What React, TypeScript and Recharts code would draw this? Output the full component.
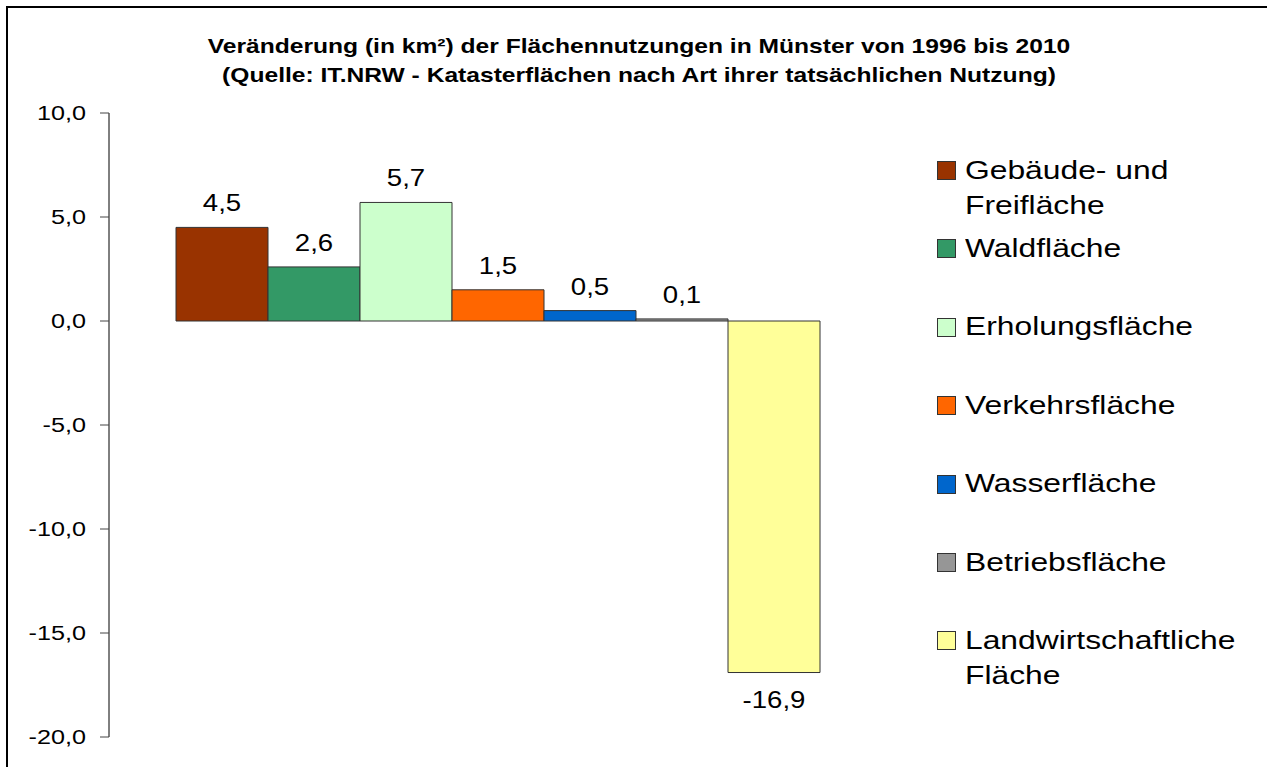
import { BarChart, Bar, XAxis, YAxis, Legend, LabelList } from 'recharts';

const FONT = '"Liberation Sans", Arial, sans-serif';
const SX = 1.2; // the reference is stretched horizontally

const categories = ['1996-2010'];
const seriesNames = [
  'Gebäude- und Freifläche',
  'Waldfläche',
  'Erholungsfläche',
  'Verkehrsfläche',
  'Wasserfläche',
  'Betriebsfläche',
  'Landwirtschaftliche Fläche',
];
const seriesValues = [4.5, 2.6, 5.7, 1.5, 0.5, 0.1, -16.9];
const seriesColors = ['#993300', '#339966', '#CCFFCC', '#FF6600', '#0066CC', '#969696', '#FFFF99'];
const yTicks = [-20, -15, -10, -5, 0, 5, 10];

const data = categories.map((name) => {
  const row: Record<string, number | string> = { name };
  seriesNames.forEach((s, i) => { row[s] = seriesValues[i]; });
  return row;
});

const fmt = (v: number) => v.toFixed(1).replace('.', ',');

function YTick(props: any) {
  const { x, y, payload } = props;
  return (
    <text
      transform={`translate(${x},${y}) scale(${SX},1)`}
      textAnchor="end"
      dy="0.357em"
      fontSize={21}
      fontFamily={FONT}
      fill="#000"
    >
      {fmt(payload.value)}
    </text>
  );
}

function ValueLabel(props: any) {
  const vb = props.viewBox || props;
  const x = Number(vb.x), y = Number(vb.y), w = Number(vb.width), h = Number(vb.height);
  const value = Number(props.value);
  const top = Math.min(y, y + h);
  const bottom = Math.max(y, y + h);
  const cx = x + w / 2;
  const baseline = value >= 0 ? top - 16 : bottom + 35;
  return (
    <text
      transform={`translate(${cx},${baseline}) scale(${SX},1)`}
      textAnchor="middle"
      fontSize={23}
      fontFamily={FONT}
      fill="#000"
    >
      {fmt(value)}
    </text>
  );
}

function LegendContent() {
  return (
    <div style={{ fontFamily: FONT, color: '#000' }}>
      {seriesNames.map((name, i) => (
        <div key={name} style={{ position: 'absolute', left: 0, top: i * 78.4, width: 330 }}>
          <div
            style={{
              position: 'absolute',
              left: 0,
              top: 8.5,
              width: 17,
              height: 17,
              background: seriesColors[i],
              border: '1px solid #333',
            }}
          />
          <div
            style={{
              position: 'absolute',
              left: 28,
              top: 0,
              width: 250,
              fontSize: 26.5,
              lineHeight: '35px',
              transform: `scaleX(${SX})`,
              transformOrigin: 'left top',
            }}
          >
            {name}
          </div>
        </div>
      ))}
    </div>
  );
}

export default function App() {
  return (
    <div style={{ position: 'absolute', left: 0, top: 0, width: 1267, height: 767, overflow: 'hidden', background: '#fff' }}>
      <div
        style={{
          position: 'absolute',
          left: 6,
          top: 6,
          width: 1300,
          height: 800,
          borderTop: '2px solid #000',
          borderLeft: '2px solid #000',
        }}
      />
      <div
        style={{
          position: 'absolute',
          left: 0,
          top: 30.5,
          width: 1278,
          textAlign: 'center',
          fontFamily: FONT,
          fontWeight: 'bold',
          fontSize: 20.5,
          lineHeight: '29px',
          transform: `scaleX(${SX})`,
          transformOrigin: '639px 0',
        }}
      >
        <div>Veränderung (in km²) der Flächennutzungen in Münster von 1996 bis 2010</div>
        <div>(Quelle: IT.NRW - Katasterflächen nach Art ihrer tatsächlichen Nutzung)</div>
      </div>
      <div style={{ position: 'absolute', left: 0, top: 0 }}>
        <BarChart
          width={1267}
          height={767}
          data={data}
          margin={{ top: 113, right: 380, bottom: 30, left: 0 }}
          barCategoryGap={67}
          barGap={0}
        >
          <XAxis dataKey="name" hide />
          <YAxis
            width={109}
            domain={[-20, 10]}
            ticks={yTicks}
            interval={0}
            allowDataOverflow
            axisLine={{ stroke: '#000', strokeWidth: 1 }}
            tickLine={{ stroke: '#444', strokeWidth: 1 }}
            tickSize={9}
            tickMargin={14}
            tick={<YTick />}
          />
          <Legend
            layout="vertical"
            align="center"
            verticalAlign="middle"
            width={330}
            wrapperStyle={{ left: 937, top: 152.5, width: 330 }}
            content={<LegendContent />}
          />
          {seriesNames.map((s, i) => (
            <Bar
              key={s}
              dataKey={s}
              name={s}
              fill={seriesColors[i]}
              stroke="#333"
              strokeWidth={1}
              isAnimationActive={false}
            >
              <LabelList dataKey={s} content={<ValueLabel />} />
            </Bar>
          ))}
        </BarChart>
      </div>
    </div>
  );
}
